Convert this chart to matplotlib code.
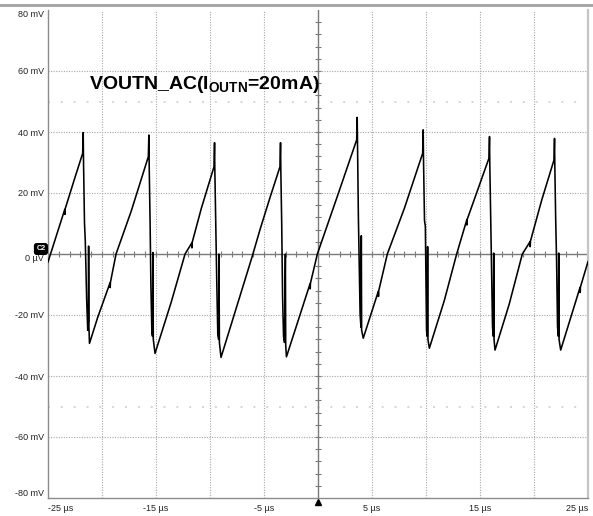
import numpy as np
import matplotlib
matplotlib.use("Agg")
import matplotlib.pyplot as plt
import matplotlib.transforms as mtransforms
from matplotlib.patches import Rectangle

plt.rcParams['font.family'] = ['Liberation Sans', 'DejaVu Sans']
plt.rcParams['mathtext.fontset'] = 'custom'
plt.rcParams['mathtext.rm'] = 'Liberation Sans'
plt.rcParams['mathtext.bf'] = 'Liberation Sans:bold'

# ---------------- data ----------------
time_us = [
    -25.00, -24.20, -23.45, -23.43, -23.41, -22.60, -21.79,
    -21.74, -21.71, -21.62, -21.55, -21.42, -21.32, -21.26, -21.24, -21.21, -21.16,
    -20.40, -19.26, -19.24, -19.22, -18.70, -17.30, -15.71,
    -15.66, -15.63, -15.55, -15.47, -15.38, -15.32, -15.29, -15.25, -15.09,
    -13.60, -12.31, -11.69, -11.67, -11.65, -10.80, -9.63,
    -9.58, -9.55, -9.47, -9.38, -9.28, -9.20, -9.17, -9.13, -8.98,
    -7.50, -6.10, -5.37, -4.40, -3.52,
    -3.47, -3.44, -3.36, -3.28, -3.19, -3.10, -3.02, -2.99, -2.92,
    -0.74, -0.72, -0.70, -0.06, 1.80, 3.58,
    3.63, 3.66, 3.74, 3.82, 3.90, 3.98, 4.01, 4.04, 4.19,
    5.58, 5.60, 5.62, 6.42, 8.00, 9.69,
    9.74, 9.77, 9.86, 9.94, 10.05, 10.12, 10.15, 10.18, 10.31,
    11.70, 12.84, 13.77, 13.79, 13.81, 15.83,
    15.88, 15.91, 15.99, 16.07, 16.16, 16.24, 16.27, 16.30, 16.39,
    17.70, 18.92, 19.63, 19.65, 19.67, 20.70, 21.85,
    21.90, 21.93, 22.01, 22.09, 22.18, 22.26, 22.29, 22.32, 22.47,
    24.26, 24.28, 24.30, 25.00,
]
voutn_mV = [
    -2.6, 6.3, 14.6, 13.0, 14.8, 24.0, 33.0,
    39.8, 30.0, 10.0, 4.6, -15.0, -25.0, -22.0, 2.6, -24.0, -29.3,
    -20.8, -9.5, -11.0, -9.3, 0.0, 14.0, 31.9,
    39.0, 29.0, 11.0, -10.7, -26.0, -27.0, 0.5, -28.0, -32.6,
    -15.9, 0.0, 3.6, 2.0, 3.8, 15.0, 28.6,
    36.5, 27.0, 10.0, -8.0, -26.0, -28.0, 0.0, -29.0, -33.9,
    -17.0, -0.9, 8.0, 19.0, 28.6,
    36.5, 27.0, 10.0, -14.0, -27.0, -29.0, 0.0, -30.0, -33.7,
    -9.8, -11.4, -9.6, 0.0, 19.0, 37.4,
    44.8, 36.0, 12.0, -5.0, -20.0, -24.0, 6.0, -25.0, -27.6,
    -12.3, -13.9, -12.1, 0.0, 15.0, 33.0,
    40.7, 31.0, 11.0, 9.0, -25.0, -27.0, 2.4, -28.0, -30.9,
    -15.2, 0.0, 11.1, 9.5, 11.3, 31.4,
    38.5, 29.0, 12.0, -3.0, -24.0, -27.0, 0.3, -28.0, -31.5,
    -16.5, 0.0, 4.0, 2.4, 4.2, 17.5, 30.8,
    37.9, 28.5, 11.0, -2.0, -24.0, -27.0, 0.3, -28.0, -31.5,
    -11.0, -12.6, -10.8, -2.5,
]

x_ticks = [-25, -15, -5, 5, 15, 25]
x_tick_labels = ['-25 µs', '-15 µs', '-5 µs', '5 µs', '15 µs', '25 µs']
y_ticks = [80, 60, 40, 20, 0, -20, -40, -60, -80]
y_tick_labels = ['80 mV', '60 mV', '40 mV', '20 mV', '0 µV',
                 '-20 mV', '-40 mV', '-60 mV', '-80 mV']
x_grid = [-20, -15, -10, -5, 5, 10, 15, 20]
y_grid = [60, 40, 20, -20, -40, -60]
y_dots = [50, -50]
title_text = r'VOUTN_AC(I$_{\mathbf{OUTN}}$=20mA)'

# ---------------- figure ----------------
W, H = 593, 516
fig = plt.figure(figsize=(W / 100, H / 100), dpi=100)
ax = fig.add_axes([48 / W, (H - 498) / H, 540 / W, 488 / H])
ax.set_xlim(-25, 25)
ax.set_ylim(-80, 80)

grid_col = '#a8a8a8'
for xv in x_grid:
    ax.axvline(xv, color=grid_col, lw=0.8, ls=(0, (1, 1.3)), zorder=1)
for yv in y_grid:
    ax.axhline(yv, color=grid_col, lw=0.8, ls=(0, (1, 1.3)), zorder=1)
for yv in y_dots:
    ax.axhline(yv, color='#cfcfcf', lw=1.2, ls=(0, (1.2, 6.5)), zorder=1)

# center axes with minor ticks
ax.axhline(0, color='#7a7a7a', lw=1.0, zorder=2)
ax.axvline(0, color='#7a7a7a', lw=1.0, zorder=2)
minor_x = np.arange(-24, 25, 1)
minor_y = np.arange(-76, 80, 4)
ax.plot(minor_x, np.zeros_like(minor_x), ls='none', marker='|', ms=5,
        mew=0.8, color='#7a7a7a', zorder=2)
ax.plot(np.zeros_like(minor_y), minor_y, ls='none', marker='_', ms=5,
        mew=0.8, color='#7a7a7a', zorder=2)

# trace
ax.plot(time_us, voutn_mV, color='black', lw=1.15, zorder=5,
        solid_joinstyle='round')

# spines
for s in ['left', 'bottom']:
    ax.spines[s].set_color('#8c8c8c')
    ax.spines[s].set_linewidth(1.0)
ax.spines['right'].set_color('#c4c4c4')
ax.spines['right'].set_linewidth(1.6)
ax.spines['top'].set_visible(False)

# ticks
ax.set_xticks(x_ticks)
ax.set_xticklabels(x_tick_labels, fontsize=6.5, color='#222222')
ax.set_yticks(y_ticks)
ax.set_yticklabels(y_tick_labels, fontsize=6.5, color='#222222')
ax.tick_params(axis='both', length=0)
ax.tick_params(axis='x', pad=4)
ax.tick_params(axis='y', pad=3)
xl = ax.get_xticklabels()
xl[0].set_ha('left')
xl[-1].set_ha('right')
yl = ax.get_yticklabels()
yl[0].set_va('top')
yl[-1].set_va('bottom')
yl[4].set_va('top')

# title
ax.text(0.076, 0.838, title_text, transform=ax.transAxes, fontsize=14,
        fontweight='bold', ha='left', va='baseline', color='black', zorder=6)

# C2 badge
ax.annotate('C2', xy=(0, 0), xycoords=ax.get_yaxis_transform(),
            xytext=(-1.8, 3.6), textcoords='offset points',
            ha='right', va='center', fontsize=5.2, color='white',
            fontweight='bold',
            bbox=dict(boxstyle='round,pad=0.25,rounding_size=0.3',
                      fc='black', ec='black'),
            annotation_clip=False, zorder=7)

# trigger marker at bottom
trig = mtransforms.offset_copy(ax.transData, fig=fig, x=0, y=-3.5, units='dots')
ax.plot([0], [-80], marker='^', ms=5, color='black', transform=trig,
        clip_on=False, zorder=7)

# top gray bar
fig.add_artist(Rectangle((0, 1 - 6.5 / H), 1, 2.8 / H,
                         transform=fig.transFigure, color='#a8a8a8', lw=0))

fig.savefig('out.png', dpi=100)
